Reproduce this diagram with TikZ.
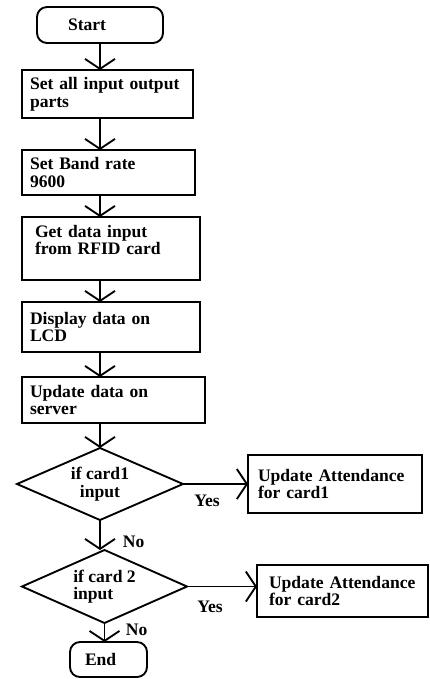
\documentclass[tikz,border=0pt]{standalone}
\usepackage{fontspec}
\setmainfont{Liberation Serif}
\usetikzlibrary{shapes.geometric,arrows.meta,positioning}
\tikzstyle{nodoblocco} = [rectangle,draw=black,line width=1.6pt,align=left,inner xsep=0.24cm,inner ysep=0pt,outer sep=0pt]
\tikzstyle{nodoestremo} = [nodoblocco,rounded corners=0.3cm]
\tikzstyle{nododecisione} = [diamond,aspect=2.3,draw=black,line width=1.6pt,inner sep=0pt,outer sep=0pt]
\tikzstyle{etichetta} = [inner sep=0pt]
\tikzstyle{arrow} = [line width=1.6pt,-{Straight Barb[length=3mm,width=9mm]}]

\begin{document}
\begin{tikzpicture}
\tikzstyle{every node}=[font=\fontsize{15}{15}\selectfont\bfseries]
\useasboundingbox (0,0) rectangle (12.9,-20.37);

\node (S)  [nodoestremo,inner xsep=0.93cm,text width=1.92cm,minimum height=1.08cm] at (3.0,-0.75) {Start};
\node (B1) [nodoblocco,text width=4.65cm,minimum height=1.44cm,below=0.81cm of S,xshift=0.225cm] {Set all input output\\parts};
\node (B2) [nodoblocco,text width=4.71cm,minimum height=1.35cm,below=0.96cm of B1,xshift=0.03cm] {Set Band rate\\9600};
\node (B3) [nodoblocco,inner xsep=0.39cm,text width=4.56cm,minimum height=1.89cm,below=0.66cm of B2,xshift=0.075cm] {Get data input\\from RFID card\\\mbox{}};
\node (B4) [nodoblocco,text width=4.86cm,minimum height=1.5cm,below=0.66cm of B3] {Display data on\\LCD};
\node (B5) [nodoblocco,text width=5.01cm,minimum height=1.38cm,below=0.75cm of B4,xshift=0.075cm] {Update data on\\server};

\node (C1) [nododecisione,align=center,minimum width=4.98cm,minimum height=2.16cm,below=0.75cm of B5,xshift=-0.405cm] {if card1\\input};
\node (U1) [nodoblocco,inner xsep=0.3cm,text width=4.62cm,minimum height=1.74cm,right=1.95cm of C1] {Update Attendance\\for card1};

\node (C2) [nododecisione,align=left,minimum width=4.95cm,minimum height=2.19cm,below=0.9cm of C1,xshift=0.135cm] {if card 2\\input};
\node (U2) [nodoblocco,inner xsep=0.36cm,text width=4.4cm,minimum height=1.56cm,right=2.1cm of C2,yshift=-0.135cm] {Update Attendance\\for card2};

\node (E)  [nodoestremo,inner xsep=0.45cm,text width=1.41cm,minimum height=1.05cm,below=0.57cm of C2,xshift=0.12cm] {End};

\draw[arrow] (S.south) -- (S.south |- B1.north);
\draw[arrow] (B1.south -| S) -- (S |- B2.north);
\draw[arrow] (B2.south -| S) -- (S |- B3.north);
\draw[arrow] (B3.south -| S) -- (S |- B4.north);
\draw[arrow] (B4.south -| S) -- (S |- B5.north);
\draw[arrow] (B5.south -| S) -- (C1.north);

\draw[arrow] (C1.east) -- node[etichetta,below=0.31cm,pos=0.37] (si1) {Yes} (U1.west);
\draw[arrow] (C1.south) -- node[etichetta,right,pos=0.73,xshift=0.66cm] (no1) {No} (C1.south |- C2.north);

\draw[arrow] (C2.east) -- node[etichetta,below=0.4cm,pos=0.33] (si2) {Yes} (C2.east -| U2.west);
\draw[arrow] (C2.south) -- node[etichetta,right,pos=0.37,xshift=0.615cm] (no2) {No} (C2.south |- E.north);

\end{tikzpicture}
\end{document}
